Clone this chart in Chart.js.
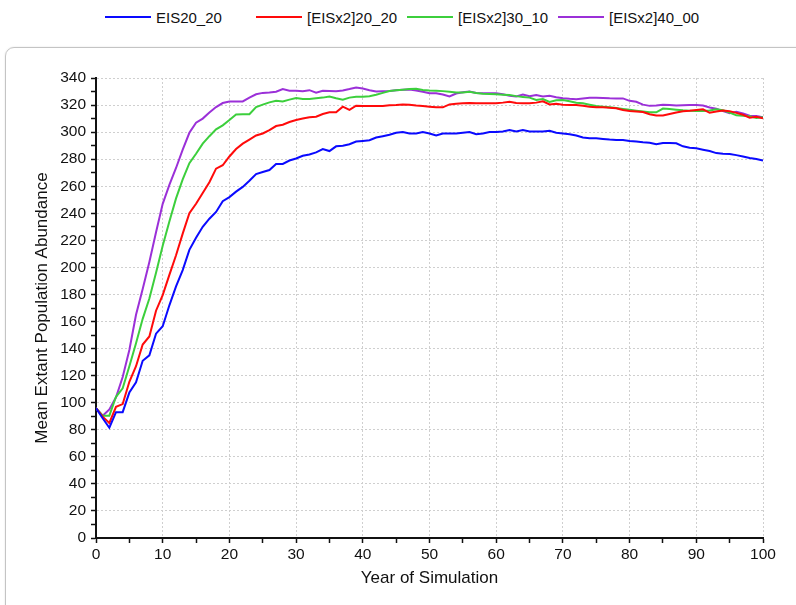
<!DOCTYPE html>
<html lang="en">

<head>
  <meta charset="UTF-8">
  <title>Mean Extant Population Abundance</title>
  <script src="https://cdn.jsdelivr.net/npm/chart.js"></script>
  <style>
    html, body { margin: 0; padding: 0; background: #fff; overflow: hidden; }
    body { width: 796px; height: 605px; position: relative; font-family: "Liberation Sans", Arial, sans-serif; }
    .painel {
      position: absolute; left: 5px; top: 47px; width: 840px; height: 640px;
      border: 1px solid #c4c4c4; border-radius: 9px;
      box-shadow: 0 0 2px rgba(0,0,0,0.12);
    }
    #legenda {
      position: absolute; left: 105px; top: 8px; height: 18px;
      display: flex; align-items: center; font-size: 15px; color: #111; white-space: nowrap;
    }
    #legenda .item { display: inline-flex; align-items: center; min-width: 144px; margin-right: 7px; }
    #legenda .linha { display: inline-block; width: 46px; height: 2px; margin-right: 5px; }
    #grafico { position: absolute; left: 0; top: 0; }
  </style>
</head>

<body>
  <div class="painel"></div>
  <div id="legenda"></div>
  <canvas id="grafico" width="796" height="605"></canvas>

  <script>
    // anos da simulação (0..100)
    const anos = Array.from({ length: 101 }, (_, i) => i);

    const nomes = ['EIS20_20', '[EISx2]20_20', '[EISx2]30_10', '[EISx2]40_00'];
    const cores = ['#0a0aff', '#ff0a0a', '#3ccf3c', '#9b30d8'];

    const eis20_20 = [
      96, 88.5, 81.5, 93, 93, 107.5, 115, 131, 135, 151,
      156.5, 172, 186, 198, 213, 222, 230, 236, 241, 249,
      252, 256, 259.5, 264, 269, 270.5, 272, 276.5, 276.5, 279,
      280.5, 282.5, 283.5, 285, 287.5, 286, 289.5, 290, 291, 293,
      293.5, 294, 296, 297, 298, 299.5, 300, 299, 299, 300,
      299, 297.5, 299, 299, 299, 299.5, 300, 298.5, 299, 300,
      300, 300.5, 301.5, 300.5, 301.5, 300.5, 300.5, 300.5, 301, 299.5,
      299, 298.5, 297.5, 296, 295.5, 295.5, 295, 294.5, 294.2, 294.2,
      293.5, 293, 292.5, 292.2, 291, 292, 292, 291.7, 289.5, 288.5,
      288, 287, 286, 284.5, 284, 283.8, 283, 282, 280.8, 280.2,
      279
    ];

    const eisx2_20_20 = [
      96, 89.7, 85, 97, 99, 115.5, 127, 143, 149, 168,
      179.5, 194.5, 209, 225, 240, 247, 255, 263, 273, 275.5,
      282, 287.5, 291.5, 294.5, 297.5, 299, 301.5, 304.5, 305.5, 307.5,
      309, 310, 311, 311.4, 313.4, 314.6, 314.6, 318.8, 316.4, 319.5,
      319.3, 319.3, 319.3, 319.3, 319.8, 320, 320.5, 320.3, 319.6, 319.3,
      318.8, 318.3, 318.3, 320.5, 321, 321.3, 321.5, 321.3, 321.3, 321.3,
      321.3, 321.8, 322.5, 321.5, 321.3, 321.3, 321.8, 322.8, 320.5, 321,
      320.3, 320.1, 320.1, 319.5, 318.8, 318.3, 318.3, 318, 317.6, 316.3,
      315.6, 315.3, 314.8, 313.2, 312.3, 312.3, 313.4, 314.5, 315.4, 315.8,
      316.4, 316.9, 314.3, 315.3, 316, 315.5, 314.2, 312.8, 310.7, 311.4,
      310.2
    ];

    const eisx2_30_10 = [
      96, 90.4, 90.4, 104.4, 110.6, 127, 144, 162, 177, 196,
      216, 234, 251, 265, 277, 284, 291.5, 297, 302, 305,
      309, 313, 313.2, 313.2, 318.5, 320.3, 322, 323.2, 322.7, 324,
      325.2, 324.5, 324.5, 325, 325.5, 326.3, 325, 323.9, 325.5, 326.2,
      326.2, 326.5, 327.6, 329, 330.4, 331, 331.4, 331.8, 332, 331.2,
      330.7, 330.6, 330.3, 329.9, 329.2, 329.3, 329.9, 328.9, 328.4, 328.1,
      327.9, 327.6, 327.4, 326.6, 326, 325.5, 323.8, 324.5, 322.3, 323.6,
      323.7, 322.8, 321.7, 321.3, 320.3, 319.3, 318.8, 318.4, 317.8, 317.1,
      316.5, 315.8, 315.2, 314.6, 314.6, 317.4, 317, 316.6, 316.1, 315.8,
      315.6, 315.6, 316, 316.9, 316.2, 314.5, 312.4, 312.1, 311.7, 310.5,
      310.9
    ];

    const eisx2_40_00 = [
      96, 90.4, 95, 104, 119, 139, 165, 184, 204, 226,
      247, 261, 273.5, 287, 299.5, 307, 310, 314.5, 318.5, 321.5,
      322.7, 322.7, 322.7, 325.5, 328, 329, 329.3, 329.8, 331.8, 330.6,
      330.6, 330.2, 331, 329.2, 330.6, 330.4, 330.2, 330.8, 331.8, 333,
      332.3, 331, 330.1, 330.2, 330.4, 330.9, 331.3, 331.5, 330.8, 329.8,
      328.8, 328.7, 327.8, 326.3, 328.5, 329.4, 330, 329, 328.7, 328.7,
      328.7, 328, 326.9, 326.4, 327.8, 326.5, 327.5, 326.3, 326.8, 325.8,
      325.1, 324.6, 324.3, 324.8, 325.4, 325.4, 325.3, 325, 324.9, 324.9,
      323.1, 322.4, 320.3, 319.4, 319.6, 320.2, 320.1, 319.6, 319.9, 320.1,
      320.1, 319.6, 318.2, 317.3, 315.5, 314, 315, 313.8, 312.1, 311.9,
      310.9
    ];

    const series = [eis20_20, eisx2_20_20, eisx2_30_10, eisx2_40_00];

    // legenda em HTML, montada a partir dos nomes e cores
    const legenda = document.getElementById('legenda');
    nomes.forEach((nome, i) => {
      const item = document.createElement('span');
      item.className = 'item';
      item.innerHTML = `<span class="linha" style="background:${cores[i]}"></span>${nome}`;
      legenda.appendChild(item);
    });

    const fonte = '"Liberation Sans", Arial, sans-serif';
    const grade = '#cfcfcf';

    new Chart(document.getElementById('grafico'), {
      type: 'line',
      data: {
        datasets: series.map((valores, i) => ({
          label: nomes[i],
          data: valores.map((v, j) => ({ x: anos[j], y: v })),
          borderColor: cores[i],
          backgroundColor: cores[i],
          borderWidth: 2,
          pointRadius: 0,
          tension: 0,
          fill: false
        }))
      },
      options: {
        responsive: false,
        animation: false,
        events: [],
        layout: { padding: { top: 78, right: 33, bottom: 12, left: 28 } },
        plugins: { legend: { display: false }, tooltip: { enabled: false } },
        scales: {
          x: {
            type: 'linear',
            min: 0,
            max: 100,
            afterFit: s => { s.height = 55; },
            ticks: {
              stepSize: 5,
              autoSkip: false,
              maxRotation: 0,
              padding: 2,
              color: '#111',
              font: { family: fonte, size: 15.5 },
              callback: v => (v % 10 === 0 ? v : '')
            },
            grid: {
              color: c => (c.tick && c.tick.value % 10 === 0 && c.tick.value > 0 ? grade : 'rgba(0,0,0,0)'),
              tickColor: '#111',
              tickLength: 5,
              tickWidth: 1.5,
              tickBorderDash: []
            },
            border: { display: true, color: '#111', width: 2, dash: [2, 2] },
            title: {
              display: true,
              text: 'Year of Simulation',
              color: '#111',
              font: { family: fonte, size: 17 },
              padding: { top: 4, bottom: 4 }
            }
          },
          y: {
            min: 0,
            max: 340,
            afterFit: s => { s.width = 68; },
            ticks: {
              stepSize: 10,
              autoSkip: false,
              padding: 5,
              color: '#111',
              font: { family: fonte, size: 15.5 },
              callback: v => (v % 20 === 0 ? v : '')
            },
            grid: {
              color: c => (c.tick && c.tick.value % 20 === 0 && c.tick.value > 0 ? grade : 'rgba(0,0,0,0)'),
              tickColor: '#111',
              tickLength: 5,
              tickWidth: 1.5,
              tickBorderDash: []
            },
            border: { display: true, color: '#111', width: 2, dash: [2, 2] },
            title: {
              display: true,
              text: 'Mean Extant Population Abundance',
              color: '#111',
              font: { family: fonte, size: 17 },
              padding: { top: 4, bottom: 4 }
            }
          }
        }
      }
    });
  </script>
</body>

</html>
